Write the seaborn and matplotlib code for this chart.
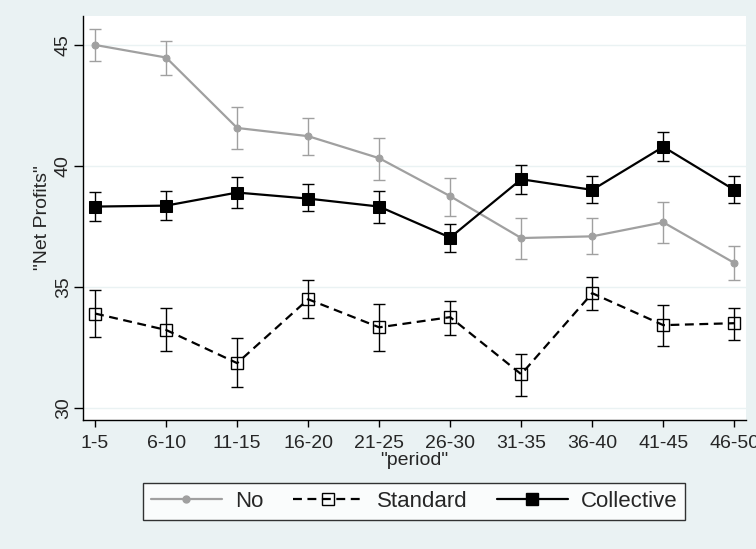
import numpy as np
import pandas as pd
import matplotlib
matplotlib.use("Agg")
import matplotlib.pyplot as plt
import seaborn as sns
from matplotlib.lines import Line2D

periods = ["1-5", "6-10", "11-15", "16-20", "21-25",
           "26-30", "31-35", "36-40", "41-45", "46-50"]

no_mean = [45.0, 44.48, 41.57, 41.23, 40.32, 38.75, 37.02, 37.09, 37.67, 35.99]
no_lo = [44.33, 43.77, 40.69, 40.44, 39.41, 37.93, 36.17, 36.36, 36.80, 35.29]
no_hi = [45.67, 45.18, 42.44, 42.00, 41.17, 39.49, 37.86, 37.86, 38.51, 36.69]

std_mean = [33.90, 33.22, 31.85, 34.49, 33.33, 33.75, 31.39, 34.74, 33.42, 33.50]
std_lo = [32.92, 32.36, 30.87, 33.72, 32.36, 33.03, 30.48, 34.05, 32.57, 32.82]
std_hi = [34.88, 34.14, 32.88, 35.27, 34.30, 34.43, 32.23, 35.43, 34.26, 34.14]

col_mean = [38.32, 38.36, 38.90, 38.65, 38.32, 37.04, 39.45, 39.01, 40.79, 39.01]
col_lo = [37.74, 37.78, 38.28, 38.14, 37.66, 36.46, 38.83, 38.48, 40.19, 38.48]
col_hi = [38.91, 38.97, 39.55, 39.26, 38.95, 37.62, 40.04, 39.60, 41.40, 39.60]

BG = "#EAF2F3"
GRAY = "#A0A0A0"

sns.set_theme(style="white")
plt.rcParams["font.family"] = ["Liberation Sans", "DejaVu Sans"]

fig = plt.figure(figsize=(7.56, 5.49), dpi=100, facecolor=BG)
ax = fig.add_axes([0.1098, 0.235, 0.877, 0.736])
ax.set_facecolor("white")

df = pd.DataFrame({"period": periods, "no": no_mean, "std": std_mean, "col": col_mean})

series = [
    ("no", no_lo, no_hi, dict(color=GRAY, marker="o", markersize=5,
                              markerfacecolor=GRAY, markeredgecolor=GRAY,
                              linestyle="-")),
    ("std", std_lo, std_hi, dict(color="black", marker="s", markersize=9,
                                 markerfacecolor="none", markeredgecolor="black",
                                 markeredgewidth=1.0, linestyle=(0, (4, 2.5)))),
    ("col", col_lo, col_hi, dict(color="black", marker="s", markersize=9,
                                 markerfacecolor="black", markeredgecolor="black",
                                 linestyle="-")),
]

for key, lo, hi, style in series:
    mean = df[key].to_numpy()
    ax.errorbar(df["period"], mean,
                yerr=[mean - np.array(lo), np.array(hi) - mean],
                fmt="none", ecolor=style["color"], elinewidth=1.0,
                capsize=4, capthick=1.0, zorder=2)
    sns.lineplot(data=df, x="period", y=key, ax=ax, linewidth=1.6,
                 zorder=3, **style)

ax.set_xlim(-0.17, 9.165)
ax.set_ylim(29.5, 46.2)
ax.set_yticks([30, 35, 40, 45])
ax.grid(axis="y", color=BG, linewidth=1.0)
ax.grid(axis="x", visible=False)

for side in ["top", "right"]:
    ax.spines[side].set_visible(False)
for side in ["left", "bottom"]:
    ax.spines[side].set_color("black")
    ax.spines[side].set_linewidth(1.0)

ax.tick_params(axis="y", direction="out", length=6.5, width=1, color="black",
               labelsize=14, pad=1.5, left=True)
ax.tick_params(axis="x", direction="out", length=5, width=1, color="black",
               labelsize=14, pad=5.5, bottom=True)
for lab in ax.get_yticklabels():
    lab.set_rotation(90)
    lab.set_va("center")

ax.set_xlabel('"period"', fontsize=14, labelpad=0)
ax.set_ylabel('"Net Profits"', fontsize=14, labelpad=3)

handles = [Line2D([], [], linewidth=1.6, **s[3]) for s in series]
leg = fig.legend(handles, ["No", "Standard", "Collective"], ncol=3,
                 loc="lower center", bbox_to_anchor=(0.548, 0.053),
                 frameon=True, fancybox=False, edgecolor="black",
                 facecolor="white", fontsize=16, handlelength=3.2,
                 columnspacing=1.3, handletextpad=0.6, borderpad=0.35,
                 borderaxespad=0)
leg.get_frame().set_linewidth(1.0)

fig.savefig("out.png", dpi=100, facecolor=BG)
